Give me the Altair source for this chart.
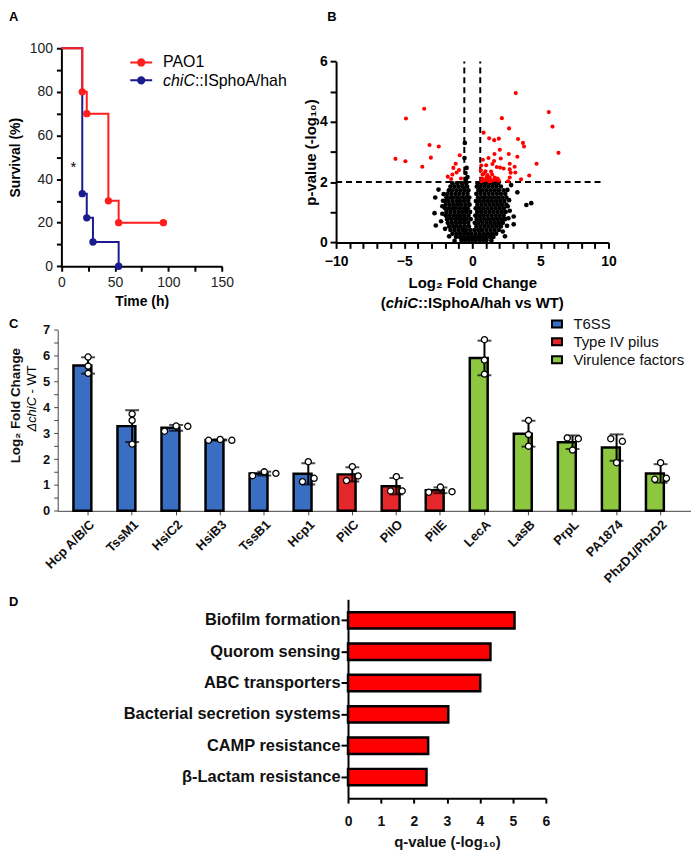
import altair as alt
import pandas as pd

FONT = "Liberation Sans"

# ---------------- Panel A: survival ----------------
surv_series = ["PAO1", "chiC::ISphoA/hah"]
surv_colors = ["#ff1d1d", "#1b1b8e"]
pao1_time = [0, 19.5, 23.7, 43.9, 53.5, 95.3]
pao1_surv = [100, 80, 70, 30, 20, 20]
chic_time = [0, 19.5, 23.7, 29.5, 53.5]
chic_surv = [100, 33.3, 22.2, 11.1, 0]
a_x_ticks = [0, 25, 50, 75, 100, 125, 150]
a_y_ticks = [0, 10, 20, 30, 40, 50, 60, 70, 80, 90, 100]

# ---------------- Panel B: volcano ----------------
fc_cutoffs = [-0.585, 0.585]
p_cutoff = [2]
b_x_ticks = [-10, -9, -8, -7, -6, -5, -4, -3, -2, -1, 0, 1, 2, 3, 4, 5, 6, 7, 8, 9, 10]
b_y_ticks = [0, 1, 2, 3, 4, 5, 6]
sig_points = [
    (3.19, 4.95), (-3.53, 4.43), (5.62, 4.32), (-4.87, 4.11), (2.17, 4.12), (5.89, 3.84),
    (2.70, 3.78), (0.83, 3.64), (1.24, 3.45), (1.61, 3.39), (1.95, 3.44), (3.36, 3.43),
    (3.72, 3.30), (3.80, 3.18), (-3.14, 3.23), (-2.46, 3.18), (2.02, 3.07), (6.33, 2.97),
    (1.63, 2.93), (2.68, 2.93), (-0.92, 2.89), (-5.64, 2.77), (-3.04, 2.81), (3.31, 2.84),
    (-4.91, 2.69), (4.72, 2.61), (-3.67, 2.51), (-1.22, 2.61), (4.18, 2.22), (3.58, 2.09),
    (-0.97, 2.40), (-1.39, 2.47), (-1.15, 2.32), (-1.46, 2.25), (-1.80, 2.18), (-1.55, 2.10),
    (-0.83, 2.12), (0.78, 2.74), (1.19, 2.80), (2.09, 2.78), (0.66, 2.55), (1.02, 2.56),
    (1.48, 2.60), (2.75, 2.61), (1.80, 2.50), (2.04, 2.48), (3.11, 2.51), (2.75, 2.42),
    (2.82, 2.31), (2.75, 2.15), (3.16, 2.32), (0.63, 2.39), (0.75, 2.25), (0.97, 2.36),
    (1.12, 2.23), (1.29, 2.14), (1.46, 2.25), (1.65, 2.15), (1.85, 2.12), (0.73, 2.12),
    (0.92, 2.06), (1.17, 2.08), (1.36, 2.04), (1.53, 2.06), (1.73, 2.08), (1.95, 2.05),
    (1.05, 2.15), (2.63, 2.03), (1.24, 2.02), (0.68, 2.03), (0.85, 2.28), (1.38, 2.35),
    (1.60, 2.70), (2.30, 2.45),
]
ns_rows = [
    (1.96, [-1.45, -1.1, -0.75, -0.45, 0.4, 0.7, 1.0, 1.3, 1.6, 1.9]),
    (1.85, [-1.6, -1.3, -1.0, -0.7, -0.38, 0.33, 0.58, 0.88, 1.18, 1.48, 1.78, 2.1]),
    (1.73, [-1.72, -1.45, -1.15, -0.85, -0.55, -0.28, 0.45, 0.75, 1.05, 1.35, 1.65, 1.95, 2.3]),
    (1.61, [-1.82, -1.52, -1.22, -0.95, -0.65, -0.35, 0.3, 0.6, 0.9, 1.2, 1.5, 1.8, 2.1, 2.42]),
    (1.49, [-1.9, -1.62, -1.35, -1.05, -0.75, -0.45, -0.22, 0.42, 0.72, 1.0, 1.3, 1.6, 1.9, 2.2, 2.5]),
    (1.37, [-2.0, -1.75, -1.45, -1.15, -0.9, -0.6, -0.3, 0.27, 0.55, 0.85, 1.15, 1.45, 1.75, 2.05, 2.35]),
    (1.25, [-1.95, -1.65, -1.35, -1.05, -0.78, -0.48, -0.2, 0.38, 0.68, 0.98, 1.28, 1.58, 1.88, 2.18, 2.5]),
    (1.13, [-2.0, -1.72, -1.45, -1.2, -0.9, -0.6, -0.33, 0.25, 0.52, 0.82, 1.12, 1.42, 1.72, 2.02, 2.32]),
    (1.01, [-1.9, -1.6, -1.3, -1.0, -0.72, -0.45, -0.16, 0.36, 0.66, 0.96, 1.26, 1.56, 1.86, 2.16, 2.45]),
    (0.89, [-1.95, -1.7, -1.4, -1.12, -0.85, -0.57, -0.28, 0.22, 0.5, 0.8, 1.1, 1.4, 1.7, 2.0, 2.3]),
    (0.77, [-1.85, -1.55, -1.25, -0.97, -0.7, -0.42, -0.12, 0.33, 0.62, 0.92, 1.22, 1.52, 1.82, 2.12, 2.4]),
    (0.65, [-1.8, -1.5, -1.2, -0.9, -0.6, -0.3, 0.18, 0.46, 0.76, 1.06, 1.36, 1.66, 1.96, 2.25]),
    (0.53, [-1.7, -1.4, -1.12, -0.84, -0.55, -0.25, 0.3, 0.6, 0.9, 1.2, 1.5, 1.8, 2.1]),
    (0.41, [-1.6, -1.3, -1.0, -0.72, -0.45, -0.15, 0.15, 0.44, 0.74, 1.04, 1.34, 1.64, 1.95]),
    (0.29, [-1.45, -1.15, -0.88, -0.6, -0.32, -0.05, 0.25, 0.55, 0.85, 1.15, 1.45, 1.75]),
    (0.18, [-1.2, -0.9, -0.62, -0.35, -0.1, 0.15, 0.42, 0.7, 1.0, 1.3, 1.55]),
    (0.08, [-0.8, -0.52, -0.25, 0.0, 0.25, 0.52, 0.8, 1.05]),
]
ns_extra = [
    (-2.48, 1.75), (-2.72, 1.49), (-2.77, 0.97), (-2.68, 0.56), (-2.29, 0.70), (-2.2, 1.2),
    (-2.1, 1.6), (3.97, 1.24), (4.33, 1.30), (3.04, 0.86), (3.04, 0.60), (3.31, 1.66),
    (2.58, 1.74), (2.24, 0.36), (2.7, 1.4), (2.75, 1.05), (2.55, 0.55), (2.85, 1.9),
    (2.4, 0.2), (-1.7, 0.2), (-2.0, 0.45), (-0.55, 3.3), (-0.57, 2.8), (-0.42, 2.47),
    (-0.35, 2.17), (-0.45, 2.1), (-0.5, 2.3), (-1.3, 0.05), (1.4, 0.06), (-2.2, 0.95),
    (2.65, 0.8), (2.6, 1.2), (-2.15, 1.38),
]

# ---------------- Panel C: qPCR bars ----------------
c_genes = ["Hcp A/B/C", "TssM1", "HsiC2", "HsiB3", "TssB1", "Hcp1", "PilC", "PilO",
           "PilE", "LecA", "LasB", "PrpL", "PA1874", "PhzD1/PhzD2"]
c_groups = ["T6SS"] * 6 + ["Type IV pilus"] * 3 + ["Virulence factors"] * 5
c_group_names = ["T6SS", "Type IV pilus", "Virulence factors"]
c_group_colors = ["#3a6ec2", "#e3272b", "#8dc63f"]
rep_a = [5.95, 3.75, 3.08, 2.73, 1.36, 1.90, 1.71, 1.32, 0.72, 6.62, 3.50, 2.82, 2.79, 1.86]
rep_b = [5.60, 3.50, 3.28, 2.76, 1.51, 1.13, 1.17, 0.77, 0.92, 5.83, 2.95, 2.79, 2.69, 1.22]
rep_c = [5.32, 2.58, 3.27, 2.73, 1.45, 1.26, 1.35, 0.77, 0.74, 5.29, 2.50, 2.35, 1.86, 1.26]
slot_a = [0, 0, -1, -1, -1, 0, 0, 0, -1, 0, 0, -0.45, -0.5, 0]
slot_b = [0, 0, 0, 0, 0, -0.5, -0.5, -0.5, 0, 0, 0, 0.5, 0.5, -0.5]
slot_c = [0, 0, 1, 1, 1, 0.5, 0.5, 0.5, 1, 0, 0, 0, 0, 0.5]
c_y_ticks = [0, 0.5, 1, 1.5, 2, 2.5, 3, 3.5, 4, 4.5, 5, 5.5, 6, 6.5, 7]

# ---------------- Panel D: pathways ----------------
d_pathways = ["Biofilm formation", "Quorom sensing", "ABC transporters",
              "Bacterial secretion systems", "CAMP resistance", "β-Lactam resistance"]
d_qvalues = [5.05, 4.32, 4.01, 3.04, 2.43, 2.38]
d_x_ticks = [0, 1, 2, 3, 4, 5, 6]

# ---------------- panel frames inside one shared view (pixels) ----------------
VW, VH = 637, 754.3
A_X0, A_X1, A_Y0, A_Y1 = 3.7, 165.2, 0.0, 219.3
B_X0, B_X1, B_Y0, B_Y1 = 280.0, 554.0, 13.3, 195.3
C_X0, C_X1, C_Y0, C_Y1 = 0.0, 637.0, 283.3, 465.3
D_X0, D_X1, D_Y0, D_Y1 = 292.0, 491.0, 554.3, 754.3


def txt(s, x, y, size, weight="normal", style="normal", align="left",
        baseline="middle", angle=0, color="black"):
    return alt.Chart(pd.DataFrame({"t": [s]})).mark_text(
        align=align, baseline=baseline, font=FONT, fontSize=size,
        fontWeight=weight, fontStyle=style, angle=angle, color=color
    ).encode(x=alt.value(x), y=alt.value(y), text="t:N")


# ======== Panel A ========
axA = dict(domainColor="black", domainWidth=2, tickColor="black", tickWidth=2, tickSize=5,
           labelFont=FONT, labelFontSize=14, labelColor="#222", labelPadding=4,
           titleFont=FONT, titleFontSize=14, titleFontWeight="bold", titleColor="black",
           grid=False, labelOverlap=False)
a_xaxis = alt.Axis(values=a_x_ticks, labelExpr="datum.value % 50 == 0 ? datum.label : ''",
                   title="Time (h)", titleX=(A_X0 + A_X1) / 2, titleY=35,
                   titleBaseline="middle", titleAlign="center", labelFlush=False,
                   orient="bottom", offset=-(VH - A_Y1), **axA)
a_yaxis = alt.Axis(values=a_y_ticks, labelExpr="datum.value % 20 == 0 ? datum.label : ''",
                   title="Survival (%)", titleX=-45.7, titleY=(A_Y0 + A_Y1) / 2, titleAngle=270,
                   titleBaseline="middle", titleAlign="center", orient="left",
                   offset=-A_X0, **axA)
a_x = alt.X("time:Q", scale=alt.Scale(domain=[0, 150], range=[A_X0, A_X1], nice=False,
                                      zero=False), axis=a_xaxis)
a_y = alt.Y("surv:Q", scale=alt.Scale(domain=[0, 100], range=[A_Y1, A_Y0], nice=False),
            axis=a_yaxis)


def ring(a):
    return f"M{-a},0A{a},{a},0,1,1,{a},0A{a},{a},0,1,1,{-a},0"


LEG_A_PATH = "M-1.294,0L1.294,0" + ring(0.118) + ring(0.247) + ring(0.376)
legendA = alt.Legend(orient="none", legendX=74.5, legendY=4.8, title=None,
                     symbolType=LEG_A_PATH, symbolSize=289, symbolStrokeWidth=2,
                     symbolOpacity=1, labelExpr="''", labelFontSize=16, padding=0,
                     rowPadding=0)
a_color = alt.Color("series:N", scale=alt.Scale(domain=surv_series, range=surv_colors),
                    legend=legendA)

a_red = pd.DataFrame({"time": pao1_time, "surv": pao1_surv, "series": surv_series[0]})
a_blue = pd.DataFrame({"time": chic_time, "surv": chic_surv, "series": surv_series[1]})

layerA = alt.layer(
    alt.Chart(a_blue).mark_line(interpolate="step-after", strokeWidth=2).encode(
        x=a_x, y=a_y, color=a_color),
    alt.Chart(a_blue).transform_filter("datum.time > 0").mark_circle(size=55, opacity=1).encode(
        x=a_x, y=a_y, color=a_color),
    alt.Chart(a_red).mark_line(interpolate="step-after", strokeWidth=2).encode(
        x=a_x, y=a_y, color=a_color),
    alt.Chart(a_red).transform_filter("datum.time > 0").mark_circle(size=55, opacity=1).encode(
        x=a_x, y=a_y, color=a_color),
)

# ======== Panel B ========
axB = dict(domainColor="black", domainWidth=2, tickColor="black", tickWidth=2, tickSize=6,
           labelFont=FONT, labelFontSize=14, labelFontWeight="bold", labelColor="black",
           titleFont=FONT, titleFontSize=15, titleFontWeight="bold", titleColor="black",
           grid=False, labelOverlap=False)
b_xaxis = alt.Axis(values=b_x_ticks, labelExpr="datum.value % 5 == 0 ? datum.label : ''",
                   title="Log₂ Fold Change", titleX=(B_X0 + B_X1) / 2, titleY=40.7,
                   titleBaseline="middle", titleAlign="center", labelFlush=False,
                   labelPadding=6, orient="bottom", offset=-(VH - B_Y1), **axB)
b_yaxis = alt.Axis(values=b_y_ticks, labelExpr="datum.value % 2 == 0 ? datum.label : ''",
                   title="p-value (-log₁₀)", titleX=-26, titleY=(B_Y0 + B_Y1) / 2,
                   titleAngle=270, titleBaseline="middle", titleAlign="center",
                   labelPadding=3, orient="left", offset=-B_X0, **axB)
b_xscale = alt.Scale(domain=[-10, 10], range=[B_X0, B_X1], nice=False, zero=False)
b_yscale = alt.Scale(domain=[0, 6], range=[B_Y1, B_Y0], nice=False)

ns_pairs = [(x, y) for (y, xs) in ns_rows for x in xs] + ns_extra
b_ns = pd.DataFrame(ns_pairs, columns=["fc", "p"])
b_sig = pd.DataFrame(sig_points, columns=["fc", "p"])
b_vlines = pd.DataFrame({"fc": fc_cutoffs, "p": [0, 0], "p_end": [6, 6]})
b_hline = pd.DataFrame({"fc": [-10], "fc_end": [9.7], "p": p_cutoff})

bx = alt.X("fc:Q", scale=b_xscale, axis=b_xaxis)
by = alt.Y("p:Q", scale=b_yscale, axis=b_yaxis)
layerB = alt.layer(
    alt.Chart(b_vlines).mark_rule(color="black", strokeWidth=2, strokeDash=[6, 4]).encode(
        x=bx, y=by, y2="p_end:Q"),
    alt.Chart(b_hline).mark_rule(color="black", strokeWidth=2, strokeDash=[6, 4]).encode(
        x=bx, x2="fc_end:Q", y=by),
    alt.Chart(b_ns).mark_circle(size=22, color="black", opacity=1).encode(x=bx, y=by),
    alt.Chart(b_sig).mark_circle(size=17, color="#ff0000", opacity=1).encode(x=bx, y=by),
)

# ======== Panel C ========
rows = []
for i, g in enumerate(c_genes):
    for v, s in ((rep_a[i], slot_a[i]), (rep_b[i], slot_b[i]), (rep_c[i], slot_c[i])):
        rows.append({"gene": g, "group": c_groups[i], "value": v, "slot": s})
cdf = pd.DataFrame(rows)

C_MID = (C_Y0 + C_Y1) / 2
axC = dict(domainColor="#444", domainWidth=1, tickColor="#444", tickWidth=1,
           labelFont=FONT, labelFontSize=13, labelFontWeight="bold", labelColor="#111",
           grid=False, labelOverlap=False)
c_x = alt.X("gene:N", sort=c_genes,
            scale=alt.Scale(range=[C_X0, C_X1], paddingInner=0.334, paddingOuter=0.357),
            axis=alt.Axis(labelAngle=315, labelAlign="right", labelBaseline="top", title=None,
                          tickSize=4, labelPadding=3, orient="bottom", offset=-(VH - C_Y1),
                          **axC))
c_yaxis = alt.Axis(values=c_y_ticks,
                   labelExpr="datum.value % 1 == 0 ? format(datum.value, 'd') : ''",
                   title="Log₂ Fold Change", titleX=-42, titleY=C_MID - 15.3, titleAngle=270,
                   titleBaseline="middle", titleAlign="center", titleFont=FONT,
                   titleFontSize=13.5, titleFontWeight="bold", titleColor="#111",
                   tickSize=4, labelPadding=4, orient="left", offset=-C_X0, **axC)
c_scale = alt.Scale(domain=[0, 7], range=[C_Y1, C_Y0], nice=False)
legendC = alt.Legend(orient="none", legendX=494.7, legendY=C_Y0 - 13.5, title=None,
                     symbolType="M-1,-0.7L1,-0.7L1,0.7L-1,0.7Z", symbolSize=100,
                     symbolStrokeColor="black", symbolStrokeWidth=2, labelFont=FONT,
                     labelFontSize=15, labelColor="#111", labelOffset=9, rowPadding=2,
                     padding=0)

layerC = alt.layer(
    alt.Chart(cdf).mark_bar(stroke="black", strokeWidth=2.5).encode(
        x=c_x, y=alt.Y("mean(value):Q", scale=c_scale, axis=c_yaxis),
        color=alt.Color("group:N", scale=alt.Scale(domain=c_group_names, range=c_group_colors),
                        legend=legendC)),
    alt.Chart(cdf).mark_errorbar(extent="stdev", ticks=True, size=14, thickness=2,
                                 color="black").encode(
        x=c_x, y=alt.Y("value:Q", scale=c_scale, axis=c_yaxis)),
    alt.Chart(cdf).mark_point(filled=True, fill="white", stroke="black", strokeWidth=1.3,
                              size=38, opacity=1, shape="circle").encode(
        x=c_x, y=alt.Y("value:Q", scale=c_scale, axis=c_yaxis),
        xOffset=alt.XOffset("slot:Q", scale=alt.Scale(domain=[-1, 1], range=[3.05, 26.45]))),
)

# ======== Panel D ========
ddf = pd.DataFrame({"pathway": d_pathways, "q": d_qvalues})
d_x = alt.X("q:Q", scale=alt.Scale(domain=[0, 6], range=[D_X0, D_X1], nice=False),
            axis=alt.Axis(values=d_x_ticks, title="q-value (-log₁₀)",
                          titleX=(D_X0 + D_X1) / 2, titleY=44, titleBaseline="middle",
                          titleAlign="center", labelFlush=False, labelPadding=12, tickSize=5,
                          domainColor="black", domainWidth=2, tickColor="black", tickWidth=2,
                          labelFont=FONT, labelFontSize=14, labelFontWeight="bold",
                          labelColor="#111", titleFont=FONT, titleFontSize=15,
                          titleFontWeight="bold", titleColor="#111", grid=False,
                          orient="bottom", offset=-(VH - D_Y1)))
d_y = alt.Y("pathway:N", sort=d_pathways,
            scale=alt.Scale(range=[D_Y0, D_Y1], paddingInner=0.476, paddingOuter=0.41),
            axis=alt.Axis(title=None, labelFont=FONT, labelFontSize=16.5,
                          labelFontWeight="bold", labelColor="#111", tickSize=7, tickWidth=2,
                          tickColor="black", domainColor="black", domainWidth=2,
                          labelPadding=1, grid=False, labelLimit=400, orient="left",
                          offset=-D_X0))
layerD = alt.layer(
    alt.Chart(ddf).mark_bar(color="#ff0000", stroke="black", strokeWidth=2.5).encode(
        x=d_x, y=d_y),
)

# ======== annotations (panel letters, mixed-style titles, legend labels) ========
layerT = alt.layer(
    txt("A", -49, -37.7, 13, weight="bold", baseline="top"),
    txt("B", 271, -37.7, 13, weight="bold", baseline="top"),
    txt("C", -49, 271.3, 13, weight="bold", baseline="top"),
    txt("D", -49, 551.3, 13, weight="bold", baseline="top"),
    txt("*", 15.7, 124.6, 15, align="center", baseline="alphabetic"),
    txt("PAO1", 106, 14.3, 16),
    txt("chiC", 106, 33.3, 16, style="italic"),
    txt("::ISphoA/hah", 138, 33.3, 16),
    txt("(", 325, 256, 15, weight="bold"),
    txt("chiC", 330, 256, 15, weight="bold", style="italic"),
    txt("::ISphoA/hah vs WT)", 362.5, 256, 15, weight="bold"),
    txt("ΔchiC", -26, C_MID + 11.2, 13, style="italic", angle=270),
    txt("- WT", -26, C_MID - 27.1, 13, angle=270),
)

chart = alt.layer(layerA, layerB, layerC, layerD, layerT).resolve_scale(
    x="independent", y="independent", color="independent"
).resolve_axis(x="independent", y="independent").resolve_legend(
    color="independent"
).properties(
    width=VW, height=VH,
    padding={"left": 0, "top": 0, "right": 0, "bottom": 0}
).configure_view(stroke=None)

chart.save("out.html", embed_options={"renderer": "svg", "actions": False})
